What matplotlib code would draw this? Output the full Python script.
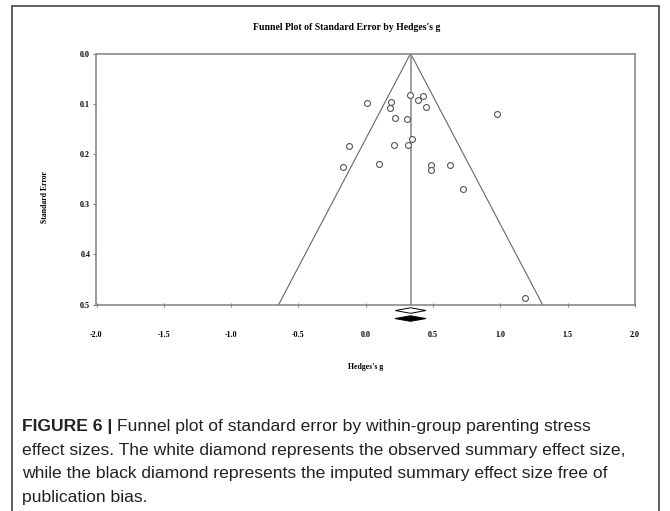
import numpy as np
import matplotlib
matplotlib.use("Agg")
import matplotlib.pyplot as plt
from matplotlib.patches import Rectangle

# study effect sizes (Hedges's g) and their standard errors
hedges_g = [0.007, 0.188, 0.183, 0.327, 0.426, 0.391, 0.448, 0.978, 0.215, 0.307,
            -0.122, 0.208, 0.314, 0.346, -0.169, 0.097, 0.485, 0.485, 0.626, 0.723,
            1.183]
std_err = [0.098, 0.097, 0.108, 0.082, 0.085, 0.092, 0.106, 0.121, 0.129, 0.130,
           0.184, 0.182, 0.183, 0.171, 0.226, 0.221, 0.222, 0.233, 0.222, 0.269,
           0.488]

summary_g = 0.334
se_max = 0.5
# summary diamonds: (low, high, y position)
observed_diamond = [0.220, 0.448, 0.512]
imputed_diamond = [0.218, 0.448, 0.528]

x_ticks = [-2.0, -1.5, -1.0, -0.5, 0.0, 0.5, 1.0, 1.5, 2.0]
y_ticks = [0.0, 0.1, 0.2, 0.3, 0.4, 0.5]

serif = "Liberation Serif"
W, H = 670, 511

fig = plt.figure(figsize=(6.7, 5.11), dpi=100)
ax = fig.add_axes([96.5 / W, 1 - 304.5 / H, (634.8 - 96.5) / W, (304.5 - 53.5) / H])

# funnel
ax.plot([summary_g - 1.96 * se_max, summary_g, summary_g + 1.96 * se_max],
        [se_max, 0, se_max], color="#666666", lw=0.8)
ax.plot([summary_g, summary_g], [0, se_max], color="#999999", lw=1.3)

ax.scatter(hedges_g, std_err, s=18, facecolors="white", edgecolors="#555555",
           linewidths=0.8, zorder=3)


def diamond(d, face, h=0.0055):
    lo, hi, y = d
    mid = (lo + hi) / 2
    ax.fill([lo, mid, hi, mid], [y, y - h, y, y + h], facecolor=face,
            edgecolor="black", lw=0.7, clip_on=False, zorder=4)


diamond(observed_diamond, "white")
diamond(imputed_diamond, "black")

ax.set_xlim(-2.0, 2.0)
ax.set_ylim(0.5, 0.0)
ax.set_xticks(x_ticks)
ax.set_yticks(y_ticks)
ax.set_xticklabels([f"{t:.1f}" for t in x_ticks], fontfamily=serif,
                   fontweight="bold", fontsize=5.8)
ax.set_yticklabels([f"{t:.1f}" for t in y_ticks], fontfamily=serif,
                   fontweight="bold", fontsize=5.8)
ax.tick_params(axis="x", direction="inout", length=3, width=0.8, color="#808080", pad=17.5)
ax.tick_params(axis="y", direction="out", length=2.5, width=0.8, color="#808080", pad=2)
for sp in ax.spines.values():
    sp.set_color("#808080")
    sp.set_linewidth(1.1)

ax.set_xlabel("Hedges's g", fontfamily=serif, fontweight="bold", fontsize=5.6, labelpad=17)
ax.set_ylabel("Standard Error", fontfamily=serif, fontweight="bold", fontsize=5.6)
ax.yaxis.set_label_coords(-0.089, 0.428)

fig.text(347 / W, 1 - 28 / H, "Funnel Plot of Standard Error by Hedges's g",
         fontfamily=serif, fontweight="bold", fontsize=7, ha="center", va="center")

# outer frame
fig.patches.append(Rectangle((12 / W, -0.05), (659 - 12) / W, 1.05 - 6 / H,
                             transform=fig.transFigure, fill=False,
                             edgecolor="#444444", lw=1.2))

# caption
sans = "Liberation Sans"
cap_col = "#222222"
cap_size = 12.6
x0 = 22 / W
baselines = [431, 455, 478, 502]
lines = ["effect sizes. The white diamond represents the observed summary effect size,",
         "while the black diamond represents the imputed summary effect size free of",
         "publication bias."]
t_bold = fig.text(x0, 1 - baselines[0] / H, "FIGURE 6 | ", fontfamily=sans,
                  fontweight="bold", fontsize=cap_size, color=cap_col, va="baseline")
fig.canvas.draw()
bb = t_bold.get_window_extent()
fig.text(bb.x1 / W, 1 - baselines[0] / H,
         "Funnel plot of standard error by within-group parenting stress",
         fontfamily=sans, fontsize=cap_size, color=cap_col, va="baseline")
for yb, s in zip(baselines[1:], lines):
    fig.text(x0, 1 - yb / H, s, fontfamily=sans, fontsize=cap_size, color=cap_col,
             va="baseline")

fig.savefig("out.png", dpi=100)
